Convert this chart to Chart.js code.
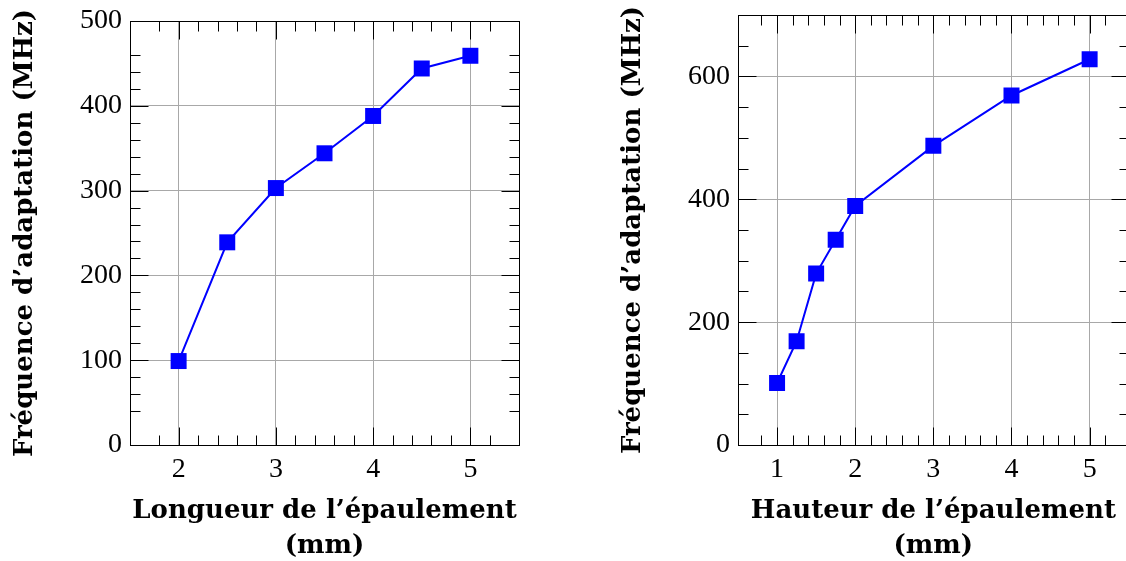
<!DOCTYPE html>
<html lang="fr">
<head>
<meta charset="UTF-8">
<title>Fréquence d’adaptation</title>
<script src="https://cdn.jsdelivr.net/npm/chart.js"></script>
<style>
  body { margin: 0; width: 1126px; height: 561px; overflow: hidden; background: #fff; position: relative; }
  canvas { position: absolute; top: 0; }
  #chartLongueur { left: 0; }
  #chartHauteur { left: 563px; }
</style>
</head>
<body>
<canvas id="chartLongueur" width="563" height="561"></canvas>
<canvas id="chartHauteur" width="577" height="561"></canvas>
<script>
// valeurs
const longueurMm = [2, 2.5, 3, 3.5, 4, 4.5, 5];
const longueurFreq = [99, 239, 303, 344, 388, 444, 459];
const hauteurMm = [1, 1.25, 1.5, 1.75, 2, 3, 4, 5];
const hauteurFreq = [101, 169, 279, 334, 389, 487, 569, 628];

// graduations
const longueurXMajor = [2, 3, 4, 5];
const longueurXMinor = [1.8, 2.2, 2.4, 2.6, 2.8, 3.2, 3.4, 3.6, 3.8, 4.2, 4.4, 4.6, 4.8, 5.2];
const longueurYMajor = [0, 100, 200, 300, 400, 500];
const longueurYMinor = [40, 60, 80, 120, 140, 160, 180, 220, 240, 260, 280, 320, 340, 360, 380, 420, 440, 460];
const hauteurXMajor = [1, 2, 3, 4, 5];
const hauteurXMinor = [0.8, 1.2, 1.4, 1.6, 1.8, 2.2, 2.4, 2.6, 2.8, 3.2, 3.4, 3.6, 3.8, 4.2, 4.4, 4.6, 4.8, 5.2];
const hauteurYMajor = [0, 200, 400, 600];
const hauteurYMinor = [50, 100, 150, 250, 300, 350, 450, 500, 550, 650];

const BLEU = '#0000ff';
const GRIS = 'rgb(168,168,168)';
const tickFont = { family: 'Liberation Serif', size: 28 };
const titleFont = { family: 'DejaVu Serif', size: 26, weight: 'bold' };

// cadre noir + graduations vers l'intérieur sur les 4 côtés
const cadre = {
  id: 'cadre',
  beforeDatasetsDraw(chart, args, opts) {
    const { ctx, chartArea: a, scales: { x, y } } = chart;
    const px = v => Math.round(v) + 0.5;
    const L = px(a.left), R = px(a.right), T = px(a.top), B = px(a.bottom);
    ctx.save();
    ctx.strokeStyle = '#000';
    ctx.lineWidth = 1;
    ctx.beginPath();
    const xTicks = (vals, len) => vals.forEach(v => {
      const p = px(x.getPixelForValue(v));
      ctx.moveTo(p, B); ctx.lineTo(p, B - len);
      ctx.moveTo(p, T); ctx.lineTo(p, T + len);
    });
    const yTicks = (vals, len) => vals.forEach(v => {
      const p = px(y.getPixelForValue(v));
      ctx.moveTo(L, p); ctx.lineTo(L + len, p);
      ctx.moveTo(R, p); ctx.lineTo(R - len, p);
    });
    xTicks(opts.xMajor, 18);
    xTicks(opts.xMinor, 10);
    yTicks(opts.yMajor, 18);
    yTicks(opts.yMinor, 10);
    ctx.stroke();
    ctx.strokeRect(L, T, R - L, B - T);
    ctx.restore();
  }
};

function makeChart(id, cfg) {
  return new Chart(document.getElementById(id), {
    type: 'line',
    data: {
      datasets: [{
        data: cfg.xs.map((v, i) => ({ x: v, y: cfg.ys[i] })),
        borderColor: BLEU,
        borderWidth: 2,
        backgroundColor: BLEU,
        pointStyle: 'rect',
        pointRadius: 11.3,
        pointBorderWidth: 0,
        pointBackgroundColor: BLEU,
        tension: 0,
        fill: false
      }]
    },
    options: {
      responsive: false,
      animation: false,
      events: [],
      devicePixelRatio: 1,
      layout: { padding: cfg.padding },
      plugins: {
        legend: { display: false },
        tooltip: { enabled: false },
        cadre: { xMajor: cfg.xMajor, xMinor: cfg.xMinor, yMajor: cfg.yMajor, yMinor: cfg.yMinor }
      },
      scales: {
        x: {
          type: 'linear',
          min: cfg.xMin,
          max: cfg.xMax,
          afterBuildTicks: s => { s.ticks = cfg.xMajor.map(v => ({ value: v })); },
          afterFit: s => { s.height = 116; s.paddingLeft = 0; s.paddingRight = 0; },
          grid: { color: GRIS, lineWidth: 1, drawTicks: false },
          border: { display: false },
          ticks: { font: tickFont, color: '#000', padding: 8, maxRotation: 0 },
          title: {
            display: true,
            text: cfg.xTitle,
            font: Object.assign({}, titleFont, { lineHeight: '35px' }),
            color: '#000',
            padding: { top: 0, bottom: -3 }
          }
        },
        y: {
          min: 0,
          max: cfg.yMax,
          afterBuildTicks: s => { s.ticks = cfg.yMajor.map(v => ({ value: v })); },
          afterFit: s => { s.width = cfg.yWidth; s.paddingTop = 0; s.paddingBottom = 0; },
          grid: { color: GRIS, lineWidth: 1, drawTicks: false },
          border: { display: false },
          ticks: { font: tickFont, color: '#000', padding: 8 },
          title: {
            display: true,
            text: 'Fréquence d’adaptation (MHz)',
            font: Object.assign({}, titleFont, { lineHeight: 1.2 }),
            color: '#000',
            padding: { top: cfg.yTitlePad, bottom: 0 }
          }
        }
      }
    },
    plugins: [cadre]
  });
}

makeChart('chartLongueur', {
  xs: longueurMm, ys: longueurFreq,
  xMin: 1.5, xMax: 5.5, yMax: 500,
  xMajor: longueurXMajor, xMinor: longueurXMinor,
  yMajor: longueurYMajor, yMinor: longueurYMinor,
  xTitle: ['Longueur de l’épaulement', '(mm)'],
  padding: { top: 21, right: 44, left: 0, bottom: 0 },
  yWidth: 130, yTitlePad: 10
});

makeChart('chartHauteur', {
  xs: hauteurMm, ys: hauteurFreq,
  xMin: 0.5, xMax: 5.5, yMax: 700,
  xMajor: hauteurXMajor, xMinor: hauteurXMinor,
  yMajor: hauteurYMajor, yMinor: hauteurYMinor,
  xTitle: ['Hauteur de l’épaulement', '(mm)'],
  padding: { top: 15, right: 5, left: 0, bottom: 0 },
  yWidth: 175, yTitlePad: 55
});
</script>
</body>
</html>
